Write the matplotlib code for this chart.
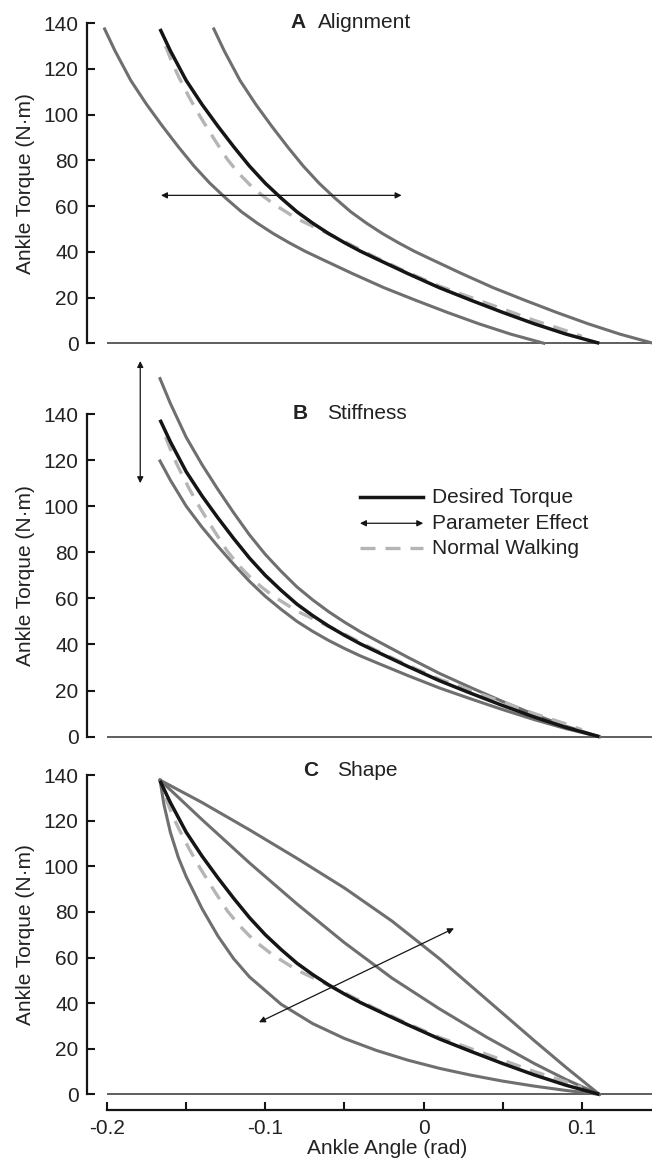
import matplotlib
matplotlib.use('Agg')
import matplotlib.pyplot as plt
import numpy as np

plt.rcParams['font.family'] = ['Liberation Sans', 'DejaVu Sans']
plt.rcParams['axes.unicode_minus'] = False

# Desired torque curve
desired_x = [-0.1665, -0.16, -0.15, -0.14, -0.13, -0.12, -0.11, -0.10, -0.09, -0.08,
             -0.07, -0.06, -0.05, -0.04, -0.03, -0.01, 0.01, 0.03, 0.05, 0.07, 0.09, 0.111]
desired_y = [137.5, 128, 115, 104.5, 95, 86, 77.5, 70, 63.5, 57.5,
             52.5, 48, 44, 40.3, 37, 30.5, 24.3, 18.8, 13.5, 8.5, 4, 0]

# Normal walking (dashed)
walking_x = [-0.163, -0.159, -0.155, -0.148, -0.141, -0.132, -0.124, -0.117, -0.11,
             -0.1025, -0.095, -0.08, -0.065, -0.05, -0.03, -0.01, 0.01, 0.03, 0.05,
             0.07, 0.09, 0.100]
walking_y = [130, 123, 117, 107.5, 99, 89, 80.5, 74.5, 69.5,
             65, 61, 54.5, 49.5, 44.5, 37.5, 31, 25, 20, 15,
             10, 5.5, 3]

# A: alignment shifts of the desired curve (rad)
alignment_shift = [-0.035, 0.034]

# B: stiffness scale factors of the desired curve
stiffness_scale = [1.13, 0.87]

# C: shape variants
shape_x = [-0.1665, -0.14, -0.11, -0.08, -0.05, -0.02, 0.01, 0.04, 0.07, 0.09, 0.111]
shape_top_y = [137.8, 128, 116, 103.5, 90.5, 76, 59.5, 41.5, 23.5, 11.8, 0]
shape_mid_y = [137.8, 120.5, 101.5, 83.5, 66.5, 51, 37.5, 25, 13.5, 6.5, 0]
shape_low_x = [-0.1665, -0.164, -0.16, -0.155, -0.15, -0.14, -0.13, -0.12, -0.11,
               -0.09, -0.07, -0.05, -0.03, -0.01, 0.01, 0.03, 0.05, 0.07, 0.09, 0.111]
shape_low_y = [137.8, 127, 115, 104, 95.5, 81.5, 69.5, 59.5, 51.5,
               39.5, 31, 24.5, 19.3, 15, 11.4, 8.4, 5.8, 3.6, 1.7, 0]

# parameter-effect arrows (start, end)
arrow_a = ((-0.1659, 64.7), (-0.0139, 64.7))
arrow_b = ((-0.179, 110), (-0.179, 163))
arrow_c = ((-0.104, 31.6), (0.0192, 72.8))

panel_letters = ['A', 'B', 'C']
panel_titles = ['Alignment', 'Stiffness', 'Shape']
yticks = [0, 20, 40, 60, 80, 100, 120, 140]

W, H = 652, 1161
fig = plt.figure(figsize=(W / 100, H / 100), dpi=100)

GRAY = '#6f6f6f'
DASH = '#b5b5b5'
BLACK = '#151515'
TXT = '#222222'
FS = 15
DASHES = (0, (4.5, 3))
XMIN, XMAX = -0.2, 0.1443


def make_axes(top_px, bottom_px, ylim):
    ax = fig.add_axes([107 / W, 1 - bottom_px / H, 545 / W, (bottom_px - top_px) / H])
    ax.patch.set_alpha(0)
    ax.set_xlim(XMIN, XMAX)
    ax.set_ylim(*ylim)
    for s in ['top', 'right']:
        ax.spines[s].set_visible(False)
    ax.spines['left'].set_position(('outward', 14.4))
    ax.spines['left'].set_bounds(0, 140)
    ax.spines['left'].set_linewidth(1.6)
    ax.spines['left'].set_color(BLACK)
    ax.set_yticks(yticks)
    ax.tick_params(axis='y', direction='in', length=6, width=1.5, pad=6,
                   labelsize=FS, labelcolor=TXT, color=BLACK)
    ax.axhline(0, color='#333333', lw=1.1, zorder=1)
    ax.set_ylabel('Ankle Torque (N·m)', fontsize=FS, color=TXT)
    ax.yaxis.set_label_coords(-0.132, (70 - ylim[0]) / (ylim[1] - ylim[0]))
    return ax


def add_arrow(ax, start, end):
    ax.annotate('', xy=end, xytext=start,
                arrowprops=dict(arrowstyle='<|-|>', color=BLACK, lw=0.9,
                                mutation_scale=9, shrinkA=0, shrinkB=0),
                annotation_clip=False)


def add_title(ax, i, x_letter, x_title, y):
    ax.text(x_letter, y, panel_letters[i], fontsize=FS, fontweight='bold',
            color=TXT, va='center', ha='left')
    ax.text(x_title, y, panel_titles[i], fontsize=FS, color=TXT,
            va='center', ha='left')


def base_curves(ax):
    ax.plot(desired_x, desired_y, color=BLACK, lw=2.5, zorder=4,
            solid_capstyle='butt', solid_joinstyle='round')
    ax.plot(walking_x, walking_y, color=DASH, lw=2.4, ls=DASHES, zorder=3)


ax_a = make_axes(11.8, 352.4, (-4, 145))
ax_b = make_axes(354.1, 745.9, (-4, 166))
ax_c = make_axes(763.7, 1110.3, (-7, 145))

for ax in (ax_a, ax_b):
    ax.spines['bottom'].set_visible(False)
    ax.set_xticks([])

# Panel A
for dx in alignment_shift:
    ax_a.plot(np.array(desired_x) + dx, desired_y, color=GRAY, lw=2.2, zorder=2,
              clip_on=False, solid_joinstyle='round')
base_curves(ax_a)
add_arrow(ax_a, *arrow_a)
add_title(ax_a, 0, -0.0844, -0.0667, 140.5)

# Panel B
for k in stiffness_scale:
    ax_b.plot(desired_x, np.array(desired_y) * k, color=GRAY, lw=2.2, zorder=2,
              clip_on=False, solid_joinstyle='round')
base_curves(ax_b)
add_arrow(ax_b, *arrow_b)
add_title(ax_b, 1, -0.0825, -0.061, 140.3)

# legend drawn by hand in panel B
leg_x0, leg_x1, leg_tx = -0.0402, -0.0002, 0.0051
ax_b.plot([leg_x0, leg_x1], [103.9, 103.9], color=BLACK, lw=2.5)
add_arrow(ax_b, (leg_x0, 92.6), (leg_x1, 92.6))
ax_b.plot([leg_x0, leg_x1], [81.7, 81.7], color=DASH, lw=2.4, ls=DASHES)
for yy, lab in zip([103.9, 92.6, 81.7], ['Desired Torque', 'Parameter Effect', 'Normal Walking']):
    ax_b.text(leg_tx, yy, lab, fontsize=FS, color=TXT, va='center', ha='left')

# Panel C
ax_c.plot(shape_x, shape_top_y, color=GRAY, lw=2.2, zorder=2, solid_joinstyle='round')
ax_c.plot(shape_x, shape_mid_y, color=GRAY, lw=2.2, zorder=2, solid_joinstyle='round')
ax_c.plot(shape_low_x, shape_low_y, color=GRAY, lw=2.2, zorder=2, solid_joinstyle='round')
base_curves(ax_c)
add_arrow(ax_c, *arrow_c)
add_title(ax_c, 2, -0.0762, -0.0547, 142.2)

ax_c.spines['bottom'].set_linewidth(1.6)
ax_c.spines['bottom'].set_color(BLACK)
ax_c.spines['bottom'].set_bounds(XMIN, XMAX)
ax_c.set_xticks([-0.2, -0.1, 0, 0.1])
ax_c.set_xticklabels(['-0.2', '-0.1', '0', '0.1'])
ax_c.set_xticks([-0.15, -0.05, 0.05], minor=True)
ax_c.tick_params(axis='x', which='both', direction='in', length=6, width=1.5,
                 pad=6, labelsize=FS, labelcolor=TXT, color=BLACK)
fig.text(387.5 / W, 1 - 1148 / H, 'Ankle Angle (rad)', fontsize=FS, color=TXT,
         ha='center', va='center')

fig.savefig('out.png', dpi=100)
